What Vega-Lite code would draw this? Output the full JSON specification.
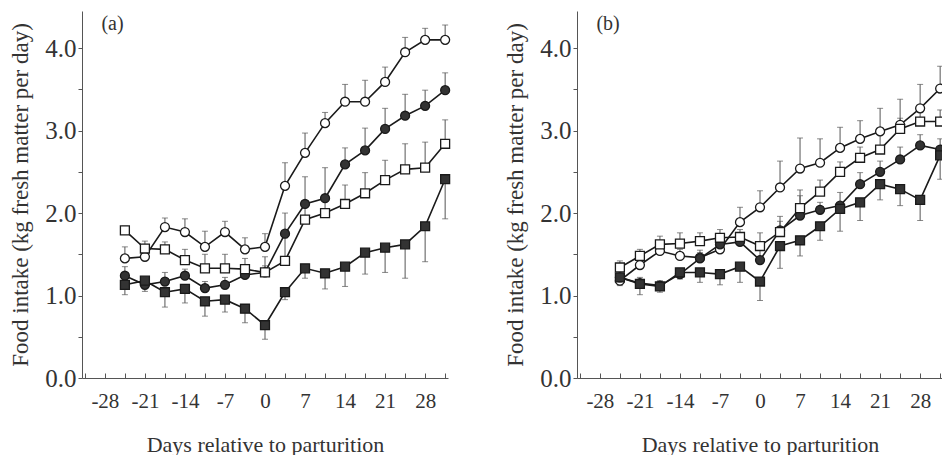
{
  "$schema": "https://vega.github.io/schema/vega-lite/v6.json",
  "padding": {"left": 9, "top": 11, "right": 0, "bottom": 0},
  "background": "white",
  "datasets": {
    "pts": [
      {"p":"a","g":"A","d":-24.5,"v":1.45,"e":1.59},
      {"p":"a","g":"A","d":-21,"v":1.47,"e":1.62},
      {"p":"a","g":"A","d":-17.5,"v":1.83,"e":1.94},
      {"p":"a","g":"A","d":-14,"v":1.77,"e":1.93},
      {"p":"a","g":"A","d":-10.5,"v":1.59,"e":1.78},
      {"p":"a","g":"A","d":-7,"v":1.77,"e":1.90},
      {"p":"a","g":"A","d":-3.5,"v":1.56,"e":1.70},
      {"p":"a","g":"A","d":0,"v":1.59,"e":1.75},
      {"p":"a","g":"A","d":3.5,"v":2.33,"e":2.61},
      {"p":"a","g":"A","d":7,"v":2.73,"e":2.97},
      {"p":"a","g":"A","d":10.5,"v":3.09,"e":3.22},
      {"p":"a","g":"A","d":14,"v":3.35,"e":3.56},
      {"p":"a","g":"A","d":17.5,"v":3.35,"e":3.61},
      {"p":"a","g":"A","d":21,"v":3.59,"e":3.77},
      {"p":"a","g":"A","d":24.5,"v":3.95,"e":4.13},
      {"p":"a","g":"A","d":28,"v":4.10,"e":4.24},
      {"p":"a","g":"A","d":31.5,"v":4.10,"e":4.28},
      {"p":"a","g":"B","d":-24.5,"v":1.24,"e":1.35},
      {"p":"a","g":"B","d":-21,"v":1.13,"e":1.22},
      {"p":"a","g":"B","d":-17.5,"v":1.17,"e":1.28},
      {"p":"a","g":"B","d":-14,"v":1.24,"e":1.32},
      {"p":"a","g":"B","d":-10.5,"v":1.09,"e":1.17},
      {"p":"a","g":"B","d":-7,"v":1.13,"e":1.22},
      {"p":"a","g":"B","d":-3.5,"v":1.25,"e":1.33},
      {"p":"a","g":"B","d":0,"v":1.28,"e":1.36},
      {"p":"a","g":"B","d":3.5,"v":1.75,"e":2.00},
      {"p":"a","g":"B","d":7,"v":2.11,"e":2.44},
      {"p":"a","g":"B","d":10.5,"v":2.18,"e":2.55},
      {"p":"a","g":"B","d":14,"v":2.59,"e":2.79},
      {"p":"a","g":"B","d":17.5,"v":2.76,"e":3.03},
      {"p":"a","g":"B","d":21,"v":3.02,"e":3.27},
      {"p":"a","g":"B","d":24.5,"v":3.18,"e":3.44},
      {"p":"a","g":"B","d":28,"v":3.30,"e":3.49},
      {"p":"a","g":"B","d":31.5,"v":3.49,"e":3.70},
      {"p":"a","g":"C","d":-24.5,"v":1.79,"e":1.84},
      {"p":"a","g":"C","d":-21,"v":1.57,"e":1.66},
      {"p":"a","g":"C","d":-17.5,"v":1.56,"e":1.65},
      {"p":"a","g":"C","d":-14,"v":1.43,"e":1.56},
      {"p":"a","g":"C","d":-10.5,"v":1.33,"e":1.50},
      {"p":"a","g":"C","d":-7,"v":1.33,"e":1.50},
      {"p":"a","g":"C","d":-3.5,"v":1.32,"e":1.45},
      {"p":"a","g":"C","d":0,"v":1.28,"e":1.47},
      {"p":"a","g":"C","d":3.5,"v":1.42,"e":1.70},
      {"p":"a","g":"C","d":7,"v":1.92,"e":2.15},
      {"p":"a","g":"C","d":10.5,"v":2.00,"e":2.20},
      {"p":"a","g":"C","d":14,"v":2.11,"e":2.34},
      {"p":"a","g":"C","d":17.5,"v":2.24,"e":2.49},
      {"p":"a","g":"C","d":21,"v":2.40,"e":2.64},
      {"p":"a","g":"C","d":24.5,"v":2.53,"e":2.84},
      {"p":"a","g":"C","d":28,"v":2.55,"e":2.86},
      {"p":"a","g":"C","d":31.5,"v":2.84,"e":3.13},
      {"p":"a","g":"D","d":-24.5,"v":1.13,"e":1.01},
      {"p":"a","g":"D","d":-21,"v":1.18,"e":1.05},
      {"p":"a","g":"D","d":-17.5,"v":1.04,"e":0.86},
      {"p":"a","g":"D","d":-14,"v":1.08,"e":0.91},
      {"p":"a","g":"D","d":-10.5,"v":0.93,"e":0.75},
      {"p":"a","g":"D","d":-7,"v":0.95,"e":0.80},
      {"p":"a","g":"D","d":-3.5,"v":0.84,"e":0.67},
      {"p":"a","g":"D","d":0,"v":0.64,"e":0.47},
      {"p":"a","g":"D","d":3.5,"v":1.04,"e":0.95},
      {"p":"a","g":"D","d":7,"v":1.33,"e":1.21},
      {"p":"a","g":"D","d":10.5,"v":1.27,"e":1.08},
      {"p":"a","g":"D","d":14,"v":1.35,"e":1.11},
      {"p":"a","g":"D","d":17.5,"v":1.52,"e":1.26},
      {"p":"a","g":"D","d":21,"v":1.58,"e":1.28},
      {"p":"a","g":"D","d":24.5,"v":1.62,"e":1.21},
      {"p":"a","g":"D","d":28,"v":1.84,"e":1.41},
      {"p":"a","g":"D","d":31.5,"v":2.41,"e":1.93},
      {"p":"b","g":"A","d":-24.5,"v":1.18,"e":1.26},
      {"p":"b","g":"A","d":-21,"v":1.37,"e":1.45},
      {"p":"b","g":"A","d":-17.5,"v":1.54,"e":1.62},
      {"p":"b","g":"A","d":-14,"v":1.48,"e":1.56},
      {"p":"b","g":"A","d":-10.5,"v":1.46,"e":1.55},
      {"p":"b","g":"A","d":-7,"v":1.56,"e":1.66},
      {"p":"b","g":"A","d":-3.5,"v":1.89,"e":2.07},
      {"p":"b","g":"A","d":0,"v":2.07,"e":2.27},
      {"p":"b","g":"A","d":3.5,"v":2.31,"e":2.63},
      {"p":"b","g":"A","d":7,"v":2.54,"e":2.91},
      {"p":"b","g":"A","d":10.5,"v":2.61,"e":2.90},
      {"p":"b","g":"A","d":14,"v":2.79,"e":3.04},
      {"p":"b","g":"A","d":17.5,"v":2.90,"e":3.12},
      {"p":"b","g":"A","d":21,"v":2.99,"e":3.27},
      {"p":"b","g":"A","d":24.5,"v":3.07,"e":3.38},
      {"p":"b","g":"A","d":28,"v":3.27,"e":3.56},
      {"p":"b","g":"A","d":31.5,"v":3.51,"e":3.78},
      {"p":"b","g":"B","d":-24.5,"v":1.22,"e":1.30},
      {"p":"b","g":"B","d":-21,"v":1.15,"e":1.22},
      {"p":"b","g":"B","d":-17.5,"v":1.12,"e":1.18},
      {"p":"b","g":"B","d":-14,"v":1.26,"e":1.33},
      {"p":"b","g":"B","d":-10.5,"v":1.45,"e":1.52},
      {"p":"b","g":"B","d":-7,"v":1.62,"e":1.70},
      {"p":"b","g":"B","d":-3.5,"v":1.65,"e":1.74},
      {"p":"b","g":"B","d":0,"v":1.43,"e":1.55},
      {"p":"b","g":"B","d":3.5,"v":1.79,"e":1.90},
      {"p":"b","g":"B","d":7,"v":1.97,"e":2.21},
      {"p":"b","g":"B","d":10.5,"v":2.04,"e":2.13},
      {"p":"b","g":"B","d":14,"v":2.09,"e":2.25},
      {"p":"b","g":"B","d":17.5,"v":2.35,"e":2.49},
      {"p":"b","g":"B","d":21,"v":2.50,"e":2.63},
      {"p":"b","g":"B","d":24.5,"v":2.65,"e":2.80},
      {"p":"b","g":"B","d":28,"v":2.82,"e":2.95},
      {"p":"b","g":"B","d":31.5,"v":2.77,"e":2.90},
      {"p":"b","g":"C","d":-24.5,"v":1.34,"e":1.42},
      {"p":"b","g":"C","d":-21,"v":1.48,"e":1.56},
      {"p":"b","g":"C","d":-17.5,"v":1.62,"e":1.72},
      {"p":"b","g":"C","d":-14,"v":1.63,"e":1.76},
      {"p":"b","g":"C","d":-10.5,"v":1.66,"e":1.76},
      {"p":"b","g":"C","d":-7,"v":1.70,"e":1.80},
      {"p":"b","g":"C","d":-3.5,"v":1.71,"e":1.80},
      {"p":"b","g":"C","d":0,"v":1.60,"e":1.76},
      {"p":"b","g":"C","d":3.5,"v":1.77,"e":1.96},
      {"p":"b","g":"C","d":7,"v":2.06,"e":2.28},
      {"p":"b","g":"C","d":10.5,"v":2.26,"e":2.40},
      {"p":"b","g":"C","d":14,"v":2.50,"e":2.62},
      {"p":"b","g":"C","d":17.5,"v":2.67,"e":2.80},
      {"p":"b","g":"C","d":21,"v":2.77,"e":2.95},
      {"p":"b","g":"C","d":24.5,"v":3.02,"e":3.15},
      {"p":"b","g":"C","d":28,"v":3.11,"e":3.22},
      {"p":"b","g":"C","d":31.5,"v":3.11,"e":3.25},
      {"p":"b","g":"D","d":-24.5,"v":1.22,"e":1.12},
      {"p":"b","g":"D","d":-21,"v":1.14,"e":1.01},
      {"p":"b","g":"D","d":-17.5,"v":1.11,"e":1.04},
      {"p":"b","g":"D","d":-14,"v":1.28,"e":1.20},
      {"p":"b","g":"D","d":-10.5,"v":1.28,"e":1.16},
      {"p":"b","g":"D","d":-7,"v":1.26,"e":1.13},
      {"p":"b","g":"D","d":-3.5,"v":1.35,"e":1.16},
      {"p":"b","g":"D","d":0,"v":1.17,"e":0.94},
      {"p":"b","g":"D","d":3.5,"v":1.60,"e":1.33},
      {"p":"b","g":"D","d":7,"v":1.67,"e":1.48},
      {"p":"b","g":"D","d":10.5,"v":1.84,"e":1.67},
      {"p":"b","g":"D","d":14,"v":2.05,"e":1.78},
      {"p":"b","g":"D","d":17.5,"v":2.13,"e":1.91},
      {"p":"b","g":"D","d":21,"v":2.35,"e":2.16},
      {"p":"b","g":"D","d":24.5,"v":2.29,"e":2.09},
      {"p":"b","g":"D","d":28,"v":2.16,"e":1.91},
      {"p":"b","g":"D","d":31.5,"v":2.70,"e":2.41}
    ]
  },
  "spacing": 129,
  "bounds": "flush",
  "hconcat": [
    {
      "width": 366,
      "height": 367,
      "layer": [
        {
          "data": {"name": "pts"},
          "transform": [{"filter": "datum.p == 'a'"}],
          "encoding": {
            "x": {"field": "d", "type": "quantitative", "scale": {"domain": [-32, 32], "nice": false, "zero": false},
                  "axis": {"title": "Days relative to parturition", "values": [-31.5,-28,-24.5,-21,-17.5,-14,-10.5,-7,-3.5,0,3.5,7,10.5,14,17.5,21,24.5,28,31.5],
                           "labelExpr": "datum.value % 7 == 0 ? '' + datum.value : ''"}}
          },
          "layer": [
            {"mark": {"type": "rule", "color": "#555", "strokeWidth": 1},
             "encoding": {"y": {"field": "v", "type": "quantitative", "scale": {"domain": [0, 4.45], "nice": false},
                                "axis": {"title": "Food intake (kg fresh matter per day)", "values": [0,0.25,0.5,0.75,1,1.25,1.5,1.75,2,2.25,2.5,2.75,3,3.25,3.5,3.75,4,4.25],
                                         "labelExpr": "datum.value % 1 == 0 ? format(datum.value, '.1f') : ''"}},
                          "y2": {"field": "e"}, "detail": {"field": "g"}}},
            {"mark": {"type": "tick", "orient": "horizontal", "color": "#555", "size": 6, "thickness": 1},
             "encoding": {"y": {"field": "e", "type": "quantitative"}}},
            {"mark": {"type": "line", "color": "#1a1a1a", "strokeWidth": 1.6},
             "encoding": {"y": {"field": "v", "type": "quantitative"}, "detail": {"field": "g"}}},
            {"mark": {"type": "point", "filled": true, "stroke": "#1a1a1a", "strokeWidth": 1.3, "opacity": 1},
             "encoding": {"y": {"field": "v", "type": "quantitative"},
                          "shape": {"field": "g", "type": "nominal", "scale": {"domain": ["A","B","C","D"], "range": ["circle","circle","square","square"]}, "legend": null},
                          "fill": {"field": "g", "type": "nominal", "scale": {"domain": ["A","B","C","D"], "range": ["#ffffff","#333333","#ffffff","#333333"]}, "legend": null},
                          "size": {"field": "g", "type": "nominal", "scale": {"domain": ["A","B","C","D"], "range": [80, 80, 90, 90]}, "legend": null}}}
          ]
        },
        {
          "data": {"values": [{"lab": "(a)"}]},
          "mark": {"type": "text", "align": "left", "baseline": "alphabetic", "fontSize": 20, "font": "Liberation Serif", "fill": "#333"},
          "encoding": {
            "x": {"datum": -28.6, "type": "quantitative",
                  "axis": {"title": "Days relative to parturition", "values": [-31.5,-28,-24.5,-21,-17.5,-14,-10.5,-7,-3.5,0,3.5,7,10.5,14,17.5,21,24.5,28,31.5],
                           "labelExpr": "datum.value % 7 == 0 ? '' + datum.value : ''"}},
            "y": {"datum": 4.22, "type": "quantitative"},
            "text": {"field": "lab", "type": "nominal"}}
        }
      ]
    },
    {
      "width": 366,
      "height": 367,
      "layer": [
        {
          "data": {"name": "pts"},
          "transform": [{"filter": "datum.p == 'b'"}],
          "encoding": {
            "x": {"field": "d", "type": "quantitative", "scale": {"domain": [-32, 32], "nice": false, "zero": false},
                  "axis": {"title": "Days relative to parturition", "values": [-31.5,-28,-24.5,-21,-17.5,-14,-10.5,-7,-3.5,0,3.5,7,10.5,14,17.5,21,24.5,28,31.5],
                           "labelExpr": "datum.value % 7 == 0 ? '' + datum.value : ''"}}
          },
          "layer": [
            {"mark": {"type": "rule", "color": "#555", "strokeWidth": 1},
             "encoding": {"y": {"field": "v", "type": "quantitative", "scale": {"domain": [0, 4.45], "nice": false},
                                "axis": {"title": "Food intake (kg fresh matter per day)", "values": [0,0.25,0.5,0.75,1,1.25,1.5,1.75,2,2.25,2.5,2.75,3,3.25,3.5,3.75,4,4.25],
                                         "labelExpr": "datum.value % 1 == 0 ? format(datum.value, '.1f') : ''"}},
                          "y2": {"field": "e"}, "detail": {"field": "g"}}},
            {"mark": {"type": "tick", "orient": "horizontal", "color": "#555", "size": 6, "thickness": 1},
             "encoding": {"y": {"field": "e", "type": "quantitative"}}},
            {"mark": {"type": "line", "color": "#1a1a1a", "strokeWidth": 1.6},
             "encoding": {"y": {"field": "v", "type": "quantitative"}, "detail": {"field": "g"}}},
            {"mark": {"type": "point", "filled": true, "stroke": "#1a1a1a", "strokeWidth": 1.3, "opacity": 1},
             "encoding": {"y": {"field": "v", "type": "quantitative"},
                          "shape": {"field": "g", "type": "nominal", "scale": {"domain": ["A","B","C","D"], "range": ["circle","circle","square","square"]}, "legend": null},
                          "fill": {"field": "g", "type": "nominal", "scale": {"domain": ["A","B","C","D"], "range": ["#ffffff","#333333","#ffffff","#333333"]}, "legend": null},
                          "size": {"field": "g", "type": "nominal", "scale": {"domain": ["A","B","C","D"], "range": [80, 80, 90, 90]}, "legend": null}}}
          ]
        },
        {
          "data": {"values": [{"lab": "(b)"}]},
          "mark": {"type": "text", "align": "left", "baseline": "alphabetic", "fontSize": 20, "font": "Liberation Serif", "fill": "#333"},
          "encoding": {
            "x": {"datum": -28.6, "type": "quantitative",
                  "axis": {"title": "Days relative to parturition", "values": [-31.5,-28,-24.5,-21,-17.5,-14,-10.5,-7,-3.5,0,3.5,7,10.5,14,17.5,21,24.5,28,31.5],
                           "labelExpr": "datum.value % 7 == 0 ? '' + datum.value : ''"}},
            "y": {"datum": 4.22, "type": "quantitative"},
            "text": {"field": "lab", "type": "nominal"}}
        }
      ]
    }
  ],
  "config": {
    "font": "Liberation Serif",
    "view": {"stroke": null},
    "axis": {"grid": false, "domainColor": "#555", "tickColor": "#555", "labelColor": "#333", "titleColor": "#333",
             "labelFont": "Liberation Serif", "titleFont": "Liberation Serif", "titleFontWeight": "normal"},
    "axisX": {"tickSize": -5, "labelPadding": 17, "labelFontSize": 21, "titleFontSize": 22, "titlePadding": 23, "labelFlush": false, "labelOverlap": false},
    "axisY": {"tickSize": 4, "labelPadding": 2, "labelFontSize": 25, "titleFontSize": 23, "titlePadding": 12, "labelOverlap": false}
  }
}
